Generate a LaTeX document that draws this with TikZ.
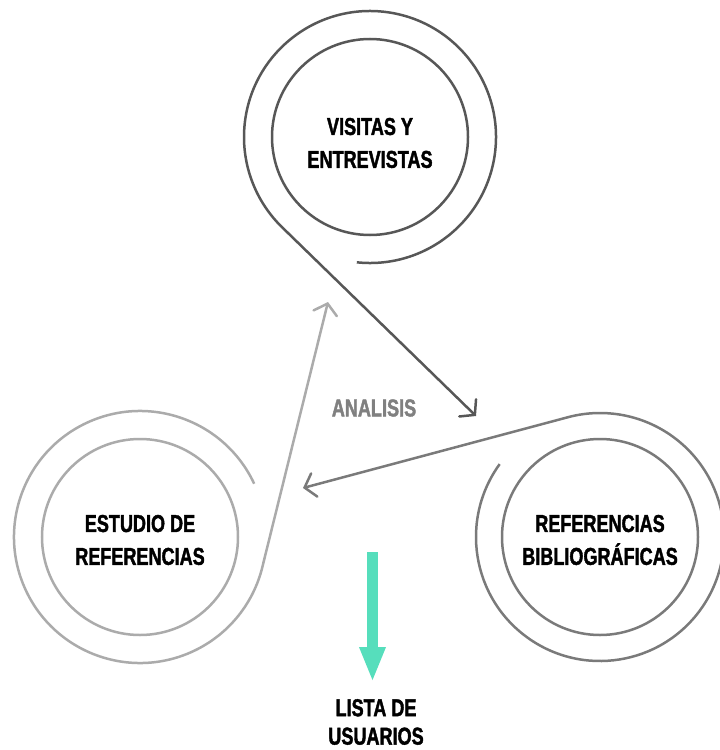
\documentclass[tikz,border=0pt]{standalone}
\usepackage{fontspec}
\setmainfont{Liberation Sans}[FakeStretch=0.74,BoldFeatures={FakeBold=1.6}]
\usepackage{xcolor}
\usetikzlibrary{arrows.meta,positioning,calc}
\definecolor{darkring}{HTML}{575757}
\definecolor{midring}{HTML}{7A7A7A}
\definecolor{lightring}{HTML}{ABABAB}
\definecolor{mint}{RGB}{86,222,188}

\begin{document}
\begin{tikzpicture}[x=1bp,y=1bp,
  ring/.style={circle,draw,line width=2.5bp,minimum size=196bp,inner sep=0pt},
  tag/.style={align=center,inner sep=0pt,font=\fontsize{24.5}{33}\selectfont\bfseries},
  spiral/.style={line width=2.5bp},
  arr/.style={-{Straight Barb[length=10bp,width=24bp,line cap=round]}},
  down/.style={line width=11bp,color=mint,-{Triangle[length=35bp,width=24bp]}}
]
\useasboundingbox (0,0) rectangle (720,-750);

\node[ring,darkring] (visitas) at (370,-137) {};
\node[ring,midring] (biblio) at (600,-537) {};
\node[ring,lightring] (estudio) at (140,-537) {};

\node[tag] (visitastxt) at ([yshift=-6bp]visitas.center) {VISITAS Y\\ENTREVISTAS};
\node[tag] (bibliotxt) at ([yshift=-3bp]biblio.center) {REFERENCIAS\\BIBLIOGRÁFICAS};
\node[tag] (estudiotxt) at ([yshift=-3bp]estudio.center) {ESTUDIO DE\\REFERENCIAS};

\coordinate (tipA) at (476,-416);
\coordinate (tipB) at (303,-488);
\coordinate (tipC) at (328,-302);

\draw[spiral,darkring,arr] ($(visitas.center)+(264:126)$) arc[start angle=264,end angle=585,radius=126] -- (tipA);
\draw[spiral,midring,arr] ($(biblio.center)+(144:124)$) arc[start angle=144,end angle=465,radius=124] -- (tipB);
\draw[spiral,lightring,arr] ($(estudio.center)+(25:126)$) arc[start angle=25,end angle=345,radius=126] -- (tipC);

\node[tag,text=gray] (analisis) at (374,-408) {ANALISIS};

\coordinate (gtop) at (372.5,-552);
\coordinate (gtip) at (372.5,-682);
\draw[down] (gtop) -- (gtip);
\node[tag,font=\fontsize{24.5}{28.5}\selectfont\bfseries] (lista) at (376,-722) {LISTA DE\\USUARIOS};
\end{tikzpicture}
\end{document}
